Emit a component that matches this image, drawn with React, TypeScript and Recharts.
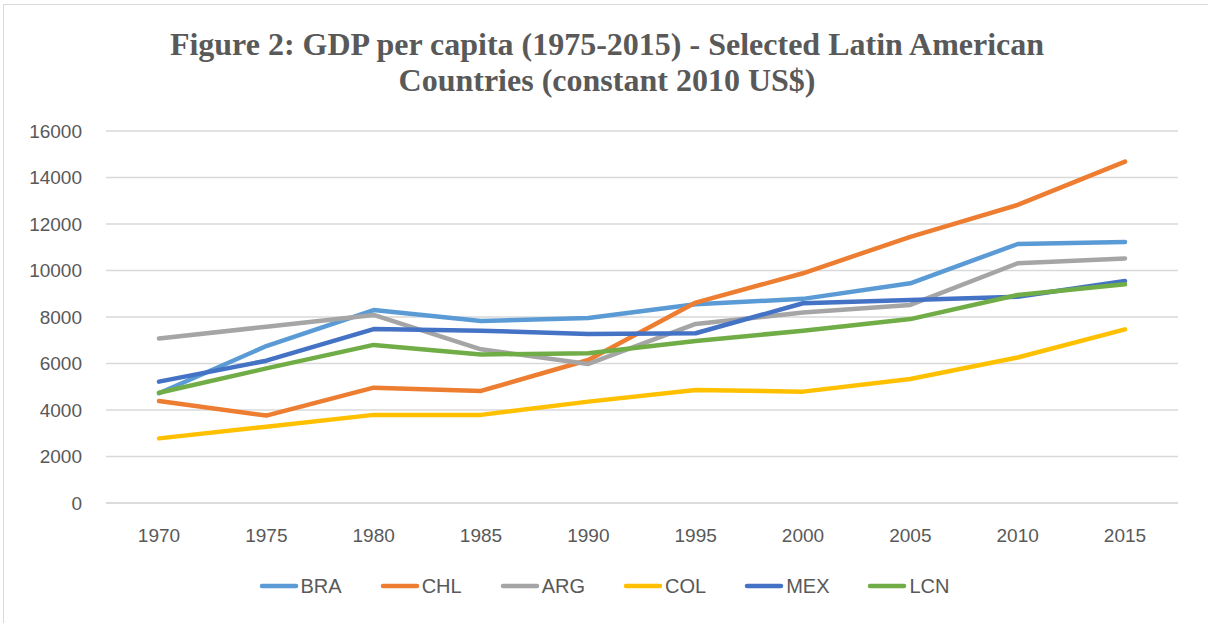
import { CartesianGrid, Legend, Line, LineChart, XAxis, YAxis } from "recharts";

const years = ["1970", "1975", "1980", "1985", "1990", "1995", "2000", "2005", "2010", "2015"];
const bra = [4720, 6750, 8300, 7830, 7960, 8550, 8780, 9450, 11140, 11230];
const chl = [4390, 3760, 4960, 4820, 6150, 8620, 9880, 11450, 12820, 14680];
const arg = [7080, 7580, 8090, 6610, 5980, 7700, 8190, 8520, 10310, 10520];
const col = [2780, 3280, 3790, 3790, 4360, 4860, 4790, 5330, 6260, 7470];
const mex = [5220, 6120, 7480, 7410, 7270, 7300, 8590, 8730, 8870, 9550];
const lcn = [4740, 5790, 6800, 6390, 6440, 6970, 7410, 7910, 8950, 9410];
const yTicks = [0, 2000, 4000, 6000, 8000, 10000, 12000, 14000, 16000];

const series = [
  { key: "BRA", color: "#5B9BD5", values: bra },
  { key: "CHL", color: "#ED7D31", values: chl },
  { key: "ARG", color: "#A5A5A5", values: arg },
  { key: "COL", color: "#FFC000", values: col },
  { key: "MEX", color: "#4472C4", values: mex },
  { key: "LCN", color: "#70AD47", values: lcn },
];

const data = years.map((year, i) => {
  const row: Record<string, string | number> = { year };
  series.forEach((s) => (row[s.key] = s.values[i]));
  return row;
});

const font = "'Liberation Sans', Arial, sans-serif";

function LegendContent() {
  return (
    <div style={{ display: "flex", justifyContent: "center", gap: 38, height: 24, fontFamily: font, fontSize: 20, color: "#595959" }}>
      {series.map((s) => (
        <div key={s.key} style={{ display: "flex", alignItems: "center" }}>
          <svg width={40} height={10} style={{ marginRight: 2 }}>
            <line x1={3} y1={5} x2={37} y2={5} stroke={s.color} strokeWidth={4.5} strokeLinecap="round" />
          </svg>
          <span>{s.key}</span>
        </div>
      ))}
    </div>
  );
}

export default function App() {
  return (
    <div style={{ position: "fixed", left: 0, top: 0, width: 1208, height: 623, background: "#fff", overflow: "hidden" }}>
      <div style={{ position: "absolute", left: 3, top: 4, width: 1220, height: 640, border: "1px solid #d9d9d9" }} />
      <div
        style={{
          position: "absolute",
          left: 0,
          top: 26,
          width: 1214,
          textAlign: "center",
          fontFamily: "'Liberation Serif', 'Times New Roman', serif",
          fontWeight: "bold",
          fontSize: 32,
          lineHeight: "36px",
          color: "#595959",
        }}
      >
        Figure 2: GDP per capita (1975-2015) - Selected Latin American
        <br />
        Countries (constant 2010 US$)
      </div>
      <div style={{ position: "absolute", left: 0, top: 0 }}>
        <LineChart width={1208} height={623} data={data} margin={{ top: 131, right: 30, bottom: 66, left: 0 }}>
          <CartesianGrid vertical={false} stroke="#d9d9d9" strokeWidth={1.5} />
          <XAxis
            dataKey="year"
            height={30}
            padding={{ left: 53, right: 53 }}
            axisLine={{ stroke: "#d9d9d9", strokeWidth: 1.5 }}
            tickLine={false}
            tickSize={0}
            tickMargin={26}
            tick={{ fill: "#595959", fontSize: 19, fontFamily: font }}
          />
          <YAxis
            width={106}
            domain={[0, 16000]}
            ticks={yTicks}
            axisLine={false}
            tickLine={false}
            tickSize={0}
            tickMargin={24}
            tick={{ fill: "#595959", fontSize: 19, fontFamily: font }}
          />
          <Legend
            content={<LegendContent />}
            wrapperStyle={{ position: "absolute", top: 574, left: 0, width: 1208 }}
          />
          {series.map((s) => (
            <Line
              key={s.key}
              dataKey={s.key}
              stroke={s.color}
              strokeWidth={4.5}
              strokeLinecap="round"
              strokeLinejoin="round"
              dot={false}
              activeDot={false}
              isAnimationActive={false}
            />
          ))}
        </LineChart>
      </div>
    </div>
  );
}
